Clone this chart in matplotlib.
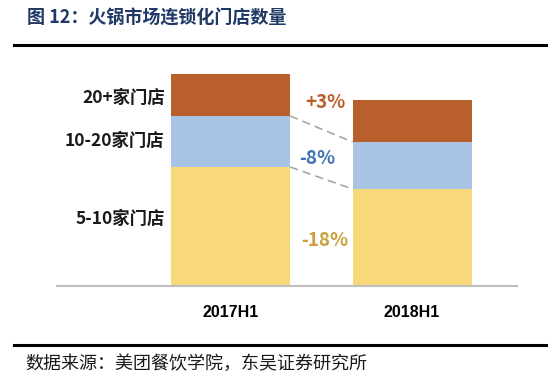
import matplotlib.pyplot as plt
from matplotlib.lines import Line2D

plt.rcParams['font.family'] = ['Noto Sans CJK SC', 'DejaVu Sans']

# data (bar heights, arbitrary units)
periods = ["2017H1", "2018H1"]
segments = ["5-10家门店", "10-20家门店", "20+家门店"]
small = [119, 97]
mid = [51, 47]
large = [42, 42]
changes = ["-18%", "-8%", "+3%"]

seg_colors = ["#F7D87A", "#A8C3E3", "#B85F2B"]
txt_colors = ["#C9A13B", "#3F71B5", "#BA5E29"]

W, H = 554, 389
fig = plt.figure(figsize=(W / 100, H / 100), dpi=100)

# axes placed in pixel units
ax = fig.add_axes([57 / W, (H - 286) / H, 460 / W, 226 / H])
x = [0, 1]
bw = 0.656
b1 = small
b2 = [s + m for s, m in zip(small, mid)]
ax.bar(x, small, bw, color=seg_colors[0])
ax.bar(x, mid, bw, bottom=b1, color=seg_colors[1])
ax.bar(x, large, bw, bottom=b2, color=seg_colors[2])

ax.set_xlim(-0.956, 1.578)
ax.set_ylim(0, 226)
for s in ["top", "right", "left"]:
    ax.spines[s].set_visible(False)
ax.spines["bottom"].set_color("#BFBFBF")
ax.spines["bottom"].set_linewidth(1.5)
ax.set_yticks([])
ax.set_xticks(x)
ax.set_xticklabels(periods, fontsize=11.5, fontweight="bold", family="Liberation Sans")
ax.tick_params(axis="x", length=0, pad=14)

# dashed connectors
for tops in (b1, b2):
    ax.plot([bw / 2, 1 - bw / 2], [tops[0], tops[1]], ls=(0, (5, 3)),
            color="#A6A6A6", lw=1.2)

# segment labels on the left
mids0 = [small[0] / 2, b1[0] + mid[0] / 2, b2[0] + large[0] / 2]
mids0 = [mids0[0] + 8, mids0[1] + 1, mids0[2] - 3]
for lab, y in zip(segments, mids0):
    ax.text(-bw / 2 - 0.035, y, lab, ha="right", va="center",
            fontsize=12.5, fontweight="bold", color="#1A1A1A")

# change labels between bars
chg_y = [46, 128, 183]
chg_x = [0.52, 0.48, 0.52]
for lab, c, xx, yy in zip(changes, txt_colors, chg_x, chg_y):
    ax.text(xx, yy, lab, ha="center", va="center", fontsize=13.5,
            fontweight="bold", color=c)

# title, rules, source
fig.text(27 / W, 1 - 18 / H, "图 12：火锅市场连锁化门店数量", fontsize=13,
         fontweight="bold", color="#1F3864", va="center", ha="left")
fig.add_artist(Line2D([14 / W, 546 / W], [1 - 45 / H] * 2, color="black", lw=2.2))
fig.add_artist(Line2D([14 / W, 546 / W], [1 - 345 / H] * 2, color="black", lw=2.2))
fig.text(25 / W, 1 - 364 / H, "数据来源：美团餐饮学院，东吴证券研究所", fontsize=13,
         color="#1A1A1A", va="center", ha="left")

fig.savefig("out.png", dpi=100)
